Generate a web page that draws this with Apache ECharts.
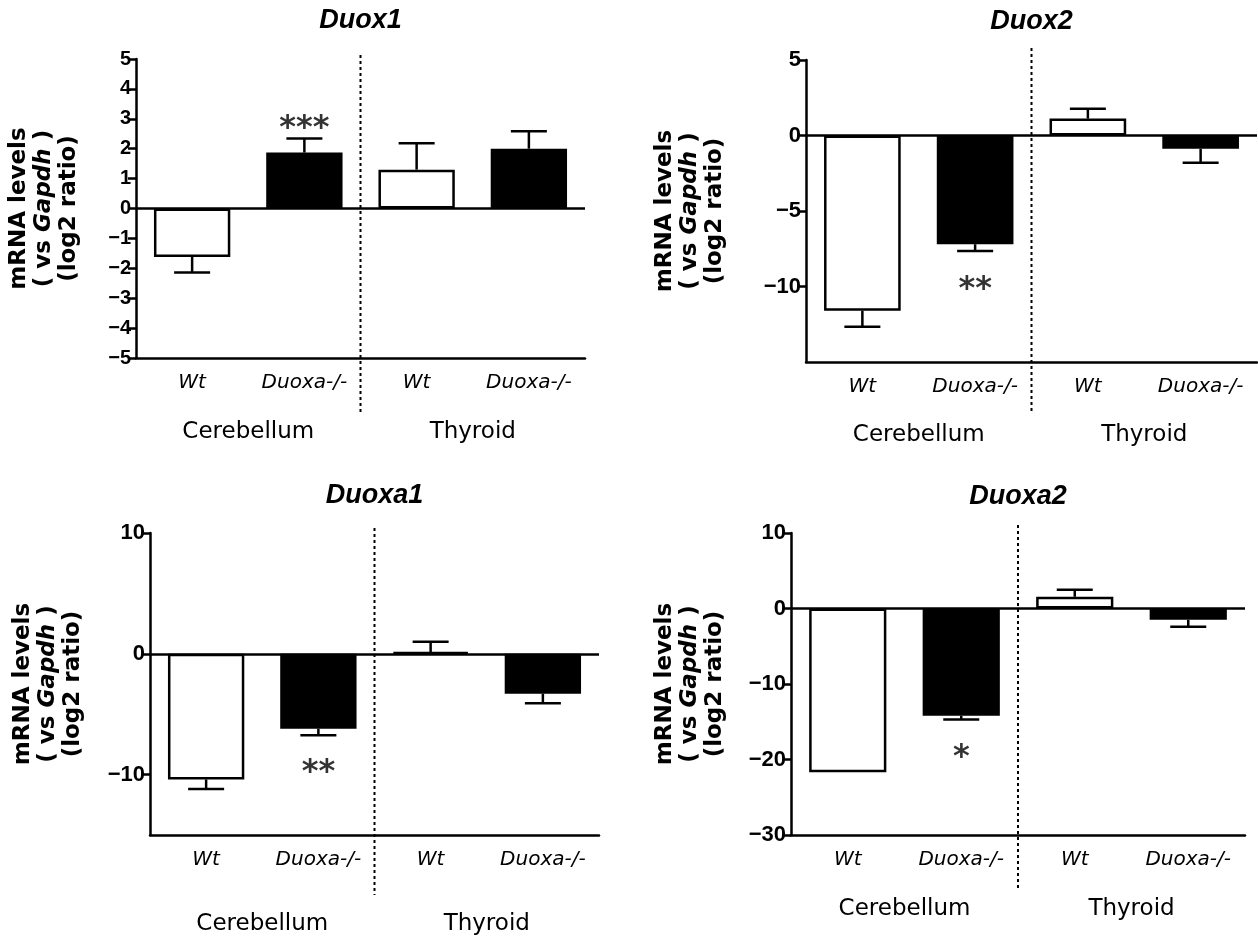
<!DOCTYPE html>
<html>
<head>
<meta charset="utf-8">
<title>Duox / Duoxa mRNA levels</title>
<script src="https://cdn.jsdelivr.net/npm/echarts@6/dist/echarts.min.js"></script>
<style>
  html, body { margin: 0; padding: 0; background: #fff; }
  #chart { width: 1258px; height: 945px; }
</style>
</head>
<body>
<div id="chart"></div>
<script>
// data
const groups = ["Wt", "Duoxa-/-", "Wt", "Duoxa-/-"];
const tissues = ["Cerebellum", "Thyroid"];
const genes = ["Duox1", "Duox2", "Duoxa1", "Duoxa2"];

const duox1Mean = [-1.62, 1.87, 1.3, 2.0];
const duox1Err = [0.52, 0.47, 0.88, 0.58];
const duox2Mean = [-11.6, -7.2, 1.12, -0.88];
const duox2Err = [1.07, 0.45, 0.65, 0.92];
const duoxa1Mean = [-10.4, -6.2, 0.15, -3.3];
const duoxa1Err = [0.8, 0.55, 0.85, 0.8];
const duoxa2Mean = [-21.7, -14.2, 1.55, -1.5];
const duoxa2Err = [0, 0.5, 0.93, 0.92];

const stars = ["***", "**", "**", "*"];
const starGroup = [1, 1, 1, 1];
const starValue = [2.93, -9.67, -9.2, -18.7];

const yMin = [-5, -15, -15, -30];
const yMax = [5, 5, 10, 10];
const yTicks = [
  [-5, -4, -3, -2, -1, 0, 1, 2, 3, 4, 5],
  [-10, -5, 0, 5],
  [-10, 0, 10],
  [-30, -20, -10, 0, 10],
];

const means = [duox1Mean, duox2Mean, duoxa1Mean, duoxa2Mean];
const errs = [duox1Err, duox2Err, duoxa1Err, duoxa2Err];

// layout (pixels)
const grids = [
  { left: 136, top: 59, width: 449, height: 299 },
  { left: 806, top: 60, width: 451, height: 302 },
  { left: 150, top: 533, width: 449, height: 302 },
  { left: 791, top: 533, width: 454, height: 302 },
];
const titleTop = [7, 8, 482, 483];
const nameGap = [54, 78, 64, 63];
const tickFont = [20, 22, 22, 22];
const tissueMargin = [63, 62, 78, 63];
const dashPad = [
  [4, 54],
  [12, 51],
  [5, 60],
  [8, 55],
];

const LW = 2.5;
const black = "#000";

function errorBarItem(params, api) {
  const cat = api.value(0);
  const mean = api.value(1);
  const err = api.value(2);
  if (!err) return { type: "group", children: [] };
  const dir = mean >= 0 ? 1 : -1;
  const base = api.coord([cat, mean]);
  const tip = api.coord([cat, mean + dir * err]);
  const style = { stroke: black, lineWidth: LW };
  return {
    type: "group",
    children: [
      { type: "line", shape: { x1: base[0], y1: base[1], x2: tip[0], y2: tip[1] }, style: style },
      { type: "line", shape: { x1: tip[0] - 18, y1: tip[1], x2: tip[0] + 18, y2: tip[1] }, style: style },
    ],
  };
}

const option = {
  backgroundColor: "#fff",
  animation: false,
  title: [],
  grid: [],
  xAxis: [],
  yAxis: [],
  series: [],
};

for (let i = 0; i < 4; i++) {
  const g = grids[i];
  option.grid.push({ left: g.left, top: g.top, width: g.width, height: g.height });

  option.title.push({
    text: genes[i],
    left: g.left + g.width / 2,
    top: titleTop[i],
    textAlign: "center",
    padding: 0,
    textStyle: {
      fontFamily: "Liberation Sans",
      fontStyle: "italic",
      fontWeight: "bold",
      fontSize: 27,
      color: black,
    },
  });

  option.xAxis.push({
    type: "category",
    gridIndex: i,
    data: groups,
    position: "bottom",
    axisLine: { onZero: false, lineStyle: { color: black, width: LW } },
    axisTick: { alignWithLabel: true, length: 8, lineStyle: { color: black, width: LW } },
    axisLabel: {
      interval: 0,
      margin: 15,
      color: black,
      fontFamily: "DejaVu Sans",
      fontStyle: "italic",
      fontSize: 20,
    },
  });

  option.yAxis.push({
    type: "value",
    gridIndex: i,
    min: yMin[i],
    max: yMax[i],
    name: "mRNA levels\n( vs {i|Gapdh} )\n(log2 ratio)",
    nameLocation: "middle",
    nameRotate: 90,
    nameGap: nameGap[i],
    nameTextStyle: {
      fontFamily: "DejaVu Sans",
      fontWeight: "bold",
      fontSize: 23,
      lineHeight: 25,
      color: black,
      rich: {
        i: {
          fontFamily: "DejaVu Sans",
          fontWeight: "bold",
          fontStyle: "italic",
          fontSize: 23,
          lineHeight: 25,
          color: black,
        },
      },
    },
    axisLine: { show: true, lineStyle: { color: black, width: LW } },
    axisTick: { show: true, length: 8, customValues: yTicks[i], lineStyle: { color: black, width: LW } },
    axisLabel: {
      customValues: yTicks[i],
      margin: 5,
      color: black,
      fontFamily: "Liberation Sans",
      fontWeight: "bold",
      fontSize: tickFont[i],
      formatter: (v) => String(v).replace("-", "\u2212"),
    },
    splitLine: { show: false },
  });

  option.series.push({
    type: "bar",
    xAxisIndex: i,
    yAxisIndex: i,
    barWidth: "68%",
    data: means[i].map((v, j) => ({
      value: v,
      itemStyle: { color: j % 2 === 0 ? "#fff" : black, borderColor: black, borderWidth: LW },
    })),
    markLine: {
      silent: true,
      symbol: ["none", "none"],
      label: { show: false },
      lineStyle: { type: "solid", color: black, width: LW },
      data: [{ yAxis: 0 }],
    },
  });

  option.series.push({
    type: "custom",
    xAxisIndex: i,
    yAxisIndex: i,
    z: 5,
    renderItem: errorBarItem,
    encode: { x: 0, y: 1 },
    data: means[i].map((v, j) => [j, v, errs[i][j]]),
  });

  option.series.push({
    type: "scatter",
    xAxisIndex: i,
    yAxisIndex: i,
    symbolSize: 1,
    itemStyle: { color: "transparent" },
    label: {
      show: true,
      position: "inside",
      offset: [0, 8],
      formatter: stars[i],
      fontFamily: "DejaVu Sans",
      fontWeight: "bold",
      fontSize: 32,
      color: black,
    },
    data: [[starGroup[i], starValue[i]]],
  });
}

// tissue labels under each pair of bars
for (let i = 0; i < 4; i++) {
  option.xAxis.push({
    type: "category",
    gridIndex: i,
    data: tissues,
    position: "bottom",
    axisLine: { show: false },
    axisTick: { show: false },
    axisLabel: {
      interval: 0,
      margin: tissueMargin[i],
      color: black,
      fontFamily: "DejaVu Sans",
      fontSize: 23,
    },
  });
}

const chart = echarts.init(document.getElementById("chart"));
chart.setOption(option);

// dotted separator between the two tissues
const dividers = [];
for (let i = 0; i < 4; i++) {
  const x1 = chart.convertToPixel({ xAxisIndex: i }, 1);
  const x2 = chart.convertToPixel({ xAxisIndex: i }, 2);
  const x = (x1 + x2) / 2;
  const yTop = chart.convertToPixel({ yAxisIndex: i }, yMax[i]) - dashPad[i][0];
  const yBot = chart.convertToPixel({ yAxisIndex: i }, yMin[i]) + dashPad[i][1];
  dividers.push({
    type: "line",
    silent: true,
    z: 10,
    shape: { x1: x, y1: yTop, x2: x, y2: yBot },
    style: { stroke: black, lineWidth: 2, lineDash: [3, 3] },
  });
}
chart.setOption({ graphic: dividers });
</script>
</body>
</html>
